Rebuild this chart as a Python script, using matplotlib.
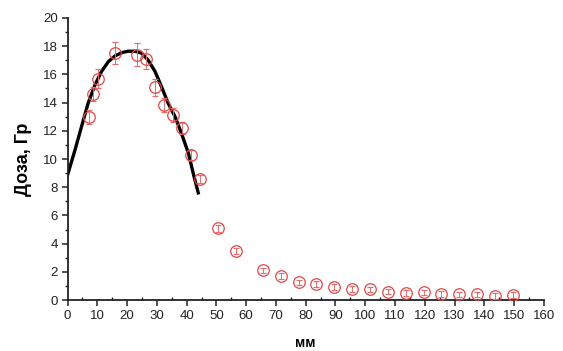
import numpy as np
import matplotlib
matplotlib.use('Agg')
import matplotlib.pyplot as plt
from matplotlib.ticker import MultipleLocator

plt.rcParams['font.family'] = ['Liberation Sans', 'DejaVu Sans']

# measured dose points
x_meas = [7.2, 8.5, 10.3, 16.1, 23.4, 26.4, 29.3, 32.4, 35.5, 38.5, 41.3, 44.5,
          50.5, 56.6, 65.6, 71.7, 77.7, 83.6, 89.5, 95.5, 101.5, 107.5, 113.6,
          119.6, 125.6, 131.5, 137.7, 143.6, 149.7]
y_meas = [13.0, 14.6, 15.7, 17.5, 17.4, 17.1, 15.1, 13.8, 13.1, 12.2, 10.3, 8.6,
          5.1, 3.5, 2.1, 1.7, 1.25, 1.15, 0.95, 0.78, 0.76, 0.6, 0.52,
          0.55, 0.45, 0.4, 0.4, 0.28, 0.35]
y_err = [0.5, 0.5, 0.7, 0.8, 0.8, 0.7, 0.6, 0.5, 0.5, 0.4, 0.35, 0.3,
         0.25, 0.2, 0.2, 0.2, 0.2, 0.2, 0.2, 0.2, 0.2, 0.2, 0.2,
         0.2, 0.2, 0.2, 0.2, 0.2, 0.2]

# fitted curve
x_fit = [0, 2.5, 4.7, 6.9, 9.2, 11.4, 13.7, 15.9, 18.2, 20.4, 22.6, 24.9,
         27.1, 29.4, 31.6, 33.8, 36.1, 38.3, 40.6, 42.2, 43.9]
y_fit = [8.87, 10.64, 12.3, 13.95, 15.25, 16.2, 16.9, 17.3, 17.54, 17.64, 17.64, 17.5,
         17.0, 16.2, 15.1, 13.95, 13.0, 11.8, 10.4, 9.0, 7.6]

fig = plt.figure(figsize=(5.63, 3.51), dpi=100)
ax = fig.add_axes([0.120, 0.145, 0.846, 0.804])

ax.plot(x_fit, y_fit, color='black', lw=2.4, zorder=2)
ax.errorbar(x_meas, y_meas, yerr=y_err, fmt='o', markersize=8.3,
            markerfacecolor='none', markeredgecolor='#e04848', markeredgewidth=0.9,
            ecolor='#e07070', elinewidth=0.7, capsize=2.5, capthick=0.7, zorder=3)

ax.set_xlim(0, 160)
ax.set_ylim(0, 20)
ax.xaxis.set_major_locator(MultipleLocator(10))
ax.xaxis.set_minor_locator(MultipleLocator(5))
ax.yaxis.set_major_locator(MultipleLocator(2))
ax.yaxis.set_minor_locator(MultipleLocator(1))

for s in ['top', 'right']:
    ax.spines[s].set_visible(False)
for s in ['left', 'bottom']:
    ax.spines[s].set_linewidth(1.3)
    ax.spines[s].set_color('#222222')

ax.tick_params(which='major', direction='out', length=4, width=1.1, labelsize=9.5,
               colors='#222222', pad=3)
ax.tick_params(which='minor', direction='out', length=2.5, width=1.0, colors='#222222')
ax.tick_params(axis='x', which='minor', direction='in')

ax.set_ylabel('Доза, Гр', fontsize=13, fontweight='bold',
              family=['Liberation Sans Narrow', 'Liberation Sans', 'DejaVu Sans'], labelpad=8)
ax.set_xlabel('мм', fontsize=10, fontweight='bold', labelpad=10)

fig.savefig('out.png', dpi=100)
